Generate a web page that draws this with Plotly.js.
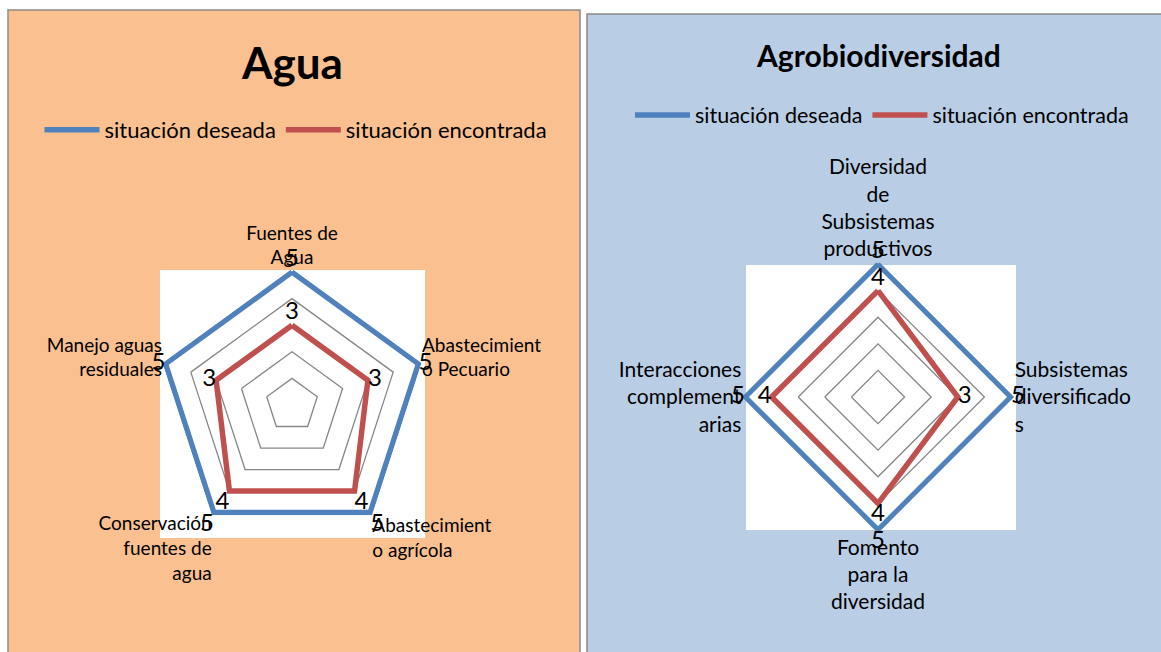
<!DOCTYPE html>
<html>
<head>
<meta charset="utf-8">
<script src="https://cdn.plot.ly/plotly-3.0.1.min.js"></script>
<style>html,body{margin:0;padding:0;background:#fff;}#chart{width:1161px;height:652px;}</style>
</head>
<body>
<div id="chart"></div>
<script>
// ---- Data ----
const aguaCategories = ["Fuentes de Agua", "Abastecimiento Pecuario", "Abastecimiento agrícola", "Conservación fuentes de agua", "Manejo aguas residuales"];
const aguaTickLabels = ["Fuentes de<br>Agua", "Abastecimient<br>o Pecuario", "Abastecimient<br>o agrícola", "Conservación<br>fuentes de<br>agua", "Manejo aguas<br>residuales"];
const aguaDeseada = [5, 5, 5, 5, 5];
const aguaEncontrada = [3, 3, 4, 4, 3];

const agroCategories = ["Diversidad de Subsistemas productivos", "Subsistemas diversificados", "Fomento para la diversidad", "Interacciones complementarias"];
const agroTickLabels = ["Diversidad<br>de<br>Subsistemas<br>productivos", "Subsistemas<br>diversificado<br>s", "Fomento<br>para la<br>diversidad", "Interacciones<br>complement<br>arias"];
const agroDeseada = [5, 5, 5, 5];
const agroEncontrada = [4, 3, 4, 4];

const seriesNames = ["situación deseada", "situación encontrada"];

// ---- Styles ----
const FONT = "Lato, 'Open Sans', sans-serif";
const BLUE = "#4F81BD", RED = "#C0504D";
const W = 1161, H = 652;
const px = v => v / W, py = v => 1 - v / H;
const RMAX = 5.12;

function closeArr(a) { return a.concat([a[0]]); }

const aguaPos = ["top center", "middle right", "bottom right", "bottom left", "middle left"];
const agroPos = ["top center", "middle right", "bottom center", "middle left"];

function mk(r, theta, name, color, subplot, legend, pos) {
  return {
    type: "scatterpolar",
    r: closeArr(r), theta: closeArr(theta),
    mode: "lines+text",
    text: closeArr(r.map(String)).map((t, i) => i < r.length ? t : ""),
    textposition: closeArr(pos),
    textfont: {family: FONT, size: 24, color: "#000"},
    line: {color: color, width: 5.5},
    name: name, subplot: subplot, legend: legend, showlegend: true,
    hoverinfo: "skip", cliponaxis: false
  };
}

const traces = [
  mk(aguaDeseada, aguaCategories, seriesNames[0], BLUE, "polar", "legend", aguaPos),
  mk(aguaEncontrada, aguaCategories, seriesNames[1], RED, "polar", "legend", aguaPos),
  mk(agroDeseada, agroCategories, seriesNames[0], BLUE, "polar2", "legend2", agroPos),
  mk(agroEncontrada, agroCategories, seriesNames[1], RED, "polar2", "legend2", agroPos)
];

function polarCfg(cx, cy, R5, cats, ticks, tsize) {
  const R = R5 * RMAX / 5;
  return {
    domain: {x: [px(cx - R), px(cx + R)], y: [py(cy + R), py(cy - R)]},
    bgcolor: "rgba(0,0,0,0)",
    gridshape: "linear",
    radialaxis: {range: [0, RMAX], tickvals: [1, 2, 3, 4, 5], showticklabels: false, ticks: "", showline: false,
                 gridcolor: "#868686", gridwidth: 1.3, layer: "below traces"},
    angularaxis: {type: "category", categoryorder: "array", categoryarray: cats,
                  rotation: 90, direction: "clockwise", showgrid: false, showline: false,
                  layer: "below traces", ticks: "",
                  tickmode: "array", tickvals: cats, ticktext: ticks,
                  tickfont: {family: FONT, size: tsize, color: "#000"}}
  };
}

const layout = {
  width: W, height: H,
  margin: {l: 0, r: 0, t: 0, b: 0},
  paper_bgcolor: "#ffffff",
  font: {family: FONT, color: "#000"},
  polar: polarCfg(292, 405, 133, aguaCategories, aguaTickLabels, 19),
  polar2: polarCfg(878, 397, 133, agroCategories, agroTickLabels, 21),
  legend: {orientation: "h", x: px(296), y: py(130), xanchor: "center", yanchor: "middle",
           bgcolor: "rgba(0,0,0,0)", font: {family: FONT, size: 22}, itemwidth: 55, tracegroupgap: 0},
  legend2: {orientation: "h", x: px(882), y: py(115), xanchor: "center", yanchor: "middle",
           bgcolor: "rgba(0,0,0,0)", font: {family: FONT, size: 21.5}, itemwidth: 55, tracegroupgap: 0},
  shapes: [
    {type: "rect", xref: "paper", yref: "paper", x0: px(8), x1: px(580), y0: py(660), y1: py(10),
     fillcolor: "#FAC090", line: {color: "#8a8a8a", width: 1.5}, layer: "below"},
    {type: "rect", xref: "paper", yref: "paper", x0: px(587), x1: px(1165), y0: py(660), y1: py(14),
     fillcolor: "#B9CDE5", line: {color: "#8a8a8a", width: 1.5}, layer: "below"},
    {type: "rect", xref: "paper", yref: "paper", x0: px(160), x1: px(425), y0: py(538), y1: py(270),
     fillcolor: "#ffffff", line: {width: 0}, layer: "below"},
    {type: "rect", xref: "paper", yref: "paper", x0: px(746), x1: px(1016), y0: py(530), y1: py(265),
     fillcolor: "#ffffff", line: {width: 0}, layer: "below"}
  ],
  annotations: [
    {text: "<b>Agua</b>", xref: "paper", yref: "paper", x: px(292), y: py(62), showarrow: false,
     xanchor: "center", yanchor: "middle", font: {family: FONT, size: 44, color: "#000"}},
    {text: "<b>Agrobiodiversidad</b>", xref: "paper", yref: "paper", x: px(878), y: py(55), showarrow: false,
     xanchor: "center", yanchor: "middle", font: {family: FONT, size: 30, color: "#000"}}
  ]
};

Plotly.newPlot("chart", traces, layout, {displayModeBar: false, staticPlot: true});
</script>
</body>
</html>
